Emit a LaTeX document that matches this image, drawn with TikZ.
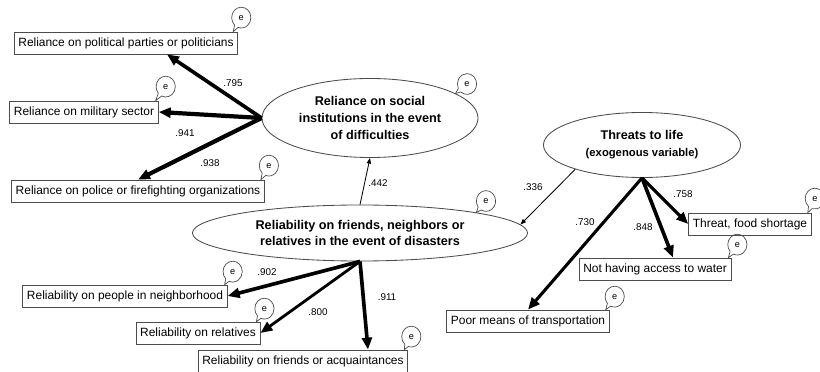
\documentclass[tikz,border=0pt]{standalone}
\usepackage{fontspec}
\setmainfont{Liberation Sans}
\usetikzlibrary{arrows.meta,positioning,calc,shapes.geometric,shapes.callouts}

\begin{document}
\begin{tikzpicture}[
  x=0.025cm, y=-0.025cm,
  obs/.style={draw=black!70, line width=0.6pt, inner xsep=3pt, inner ysep=0pt, minimum height=15.6pt, font=\fontsize{8.5}{10}\selectfont},
  lat/.style={draw=black!70, ellipse, line width=0.6pt, inner sep=0pt, align=center, font=\fontsize{9}{12}\selectfont\bfseries},
  err/.style={ellipse callout, draw=black!70, line width=0.5pt, inner sep=0pt, minimum width=0.48cm, minimum height=0.52cm, callout pointer arc=25, font=\fontsize{6.5}{6.5}\selectfont},
  load/.style={-{Triangle[length=8.5pt,width=7pt]}, line width=2.6pt},
  reg/.style={-{Triangle[length=4pt,width=3pt]}, line width=0.6pt},
  coef/.style={font=\fontsize{7}{8}\selectfont}
]
\useasboundingbox[fill=white] (0,0) rectangle (820,372);

% latent variables
\node[lat, minimum width=5.4cm, minimum height=1.975cm] (soc) at (370,118) {Reliance on social\\institutions in the event\\of difficulties};
\node[lat, minimum width=8.375cm, minimum height=1.4cm] (fr) at (360,233) {Reliability on friends, neighbors or\\relatives in the event of disasters};
\node[lat, minimum width=4.925cm, minimum height=1.625cm] (thr) at (642,145) {Threats to life\\{\fontsize{8}{10}\selectfont(exogenous variable)}};

% observed variables
\node[obs] (pol) at (126,43) {Reliance on political parties or politicians};
\node[obs] (mil) at (84,112) {Reliance on military sector};
\node[obs] (fire) at (138,191) {Reliance on police or firefighting organizations};
\node[obs] (nb) at (125,296) {Reliability on people in neighborhood};
\node[obs] (rel) at (198,333) {Reliability on relatives};
\node[obs] (acq) at (303,361) {Reliability on friends or acquaintances};
\node[obs] (food) at (750,224) {Threat, food shortage};
\node[obs] (water) at (655,269) {Not having access to water};
\node[obs] (trans) at (528,321) {Poor means of transportation};

% error terms
\node[err, callout absolute pointer={($(pol.north east)+(-5,0)$)}] (epol) at ($(pol.north east)+(3,-14)$) {e};
\node[err, callout absolute pointer={($(mil.north east)+(-3,0)$)}] (emil) at ($(mil.north east)+(7,-14)$) {e};
\node[err, callout absolute pointer={($(fire.north east)+(-4,0)$)}] (efire) at ($(fire.north east)+(4,-14)$) {e};
\node[err, callout absolute pointer={($(nb.north east)+(-3,0)$)}] (enb) at ($(nb.north east)+(5,-13)$) {e};
\node[err, callout absolute pointer={($(rel.north east)+(-4,0)$)}] (erel) at ($(rel.north east)+(4,-13)$) {e};
\node[err, callout absolute pointer={($(acq.north east)+(-4,0)$)}] (eacq) at ($(acq.north east)+(3,-13)$) {e};
\node[err, callout absolute pointer={($(food.north east)+(-4,0)$)}] (efood) at ($(food.north east)+(3,-14)$) {e};
\node[err, callout absolute pointer={($(water.north east)+(-3,0)$)}] (ewater) at ($(water.north east)+(6,-13)$) {e};
\node[err, callout absolute pointer={($(trans.north east)+(-4,0)$)}] (etrans) at ($(trans.north east)+(5,-13)$) {e};
\node[err, callout absolute pointer={(soc.16)}] (esoc) at (467,84) {e};
\node[err, callout absolute pointer={(fr.10)}] (efr) at (486,201) {e};

% paths
\draw[load] (soc.west) -- ($(pol.south)+(41,0)$);
\draw[load, line width=3pt] (soc.west) -- (mil.east);
\draw[load, line width=3pt] (soc.west) -- (fire.north);
\draw[load] (fr.south) -- (nb.east);
\draw[load, line width=2pt] (fr.south) -- (rel.east);
\draw[load] (fr.south) -- ($(acq.north)+(65,0)$);
\draw[load, line width=2.3pt] (thr.south) -- (food.west);
\draw[load] (thr.south) -- ($(water.north)+(18,0)$);
\draw[load, line width=2.2pt] (thr.south) -- (trans.north);
\draw[reg] (fr.north) -- (soc.south);
\draw[reg] (thr.200) -- (fr.3);

% coefficients
\node[coef] (c795) at (233,83) {.795};
\node[coef] (c941) at (185,133) {.941};
\node[coef] (c938) at (210,163) {.938};
\node[coef] (c442) at (378,183) {.442};
\node[coef] (c336) at (533,187) {.336};
\node[coef] (c758) at (683,194) {.758};
\node[coef] (c848) at (643,227) {.848};
\node[coef] (c730) at (585,222) {.730};
\node[coef] (c902) at (267,272) {.902};
\node[coef] (c800) at (318,312) {.800};
\node[coef] (c911) at (387,297) {.911};

\end{tikzpicture}
\end{document}
